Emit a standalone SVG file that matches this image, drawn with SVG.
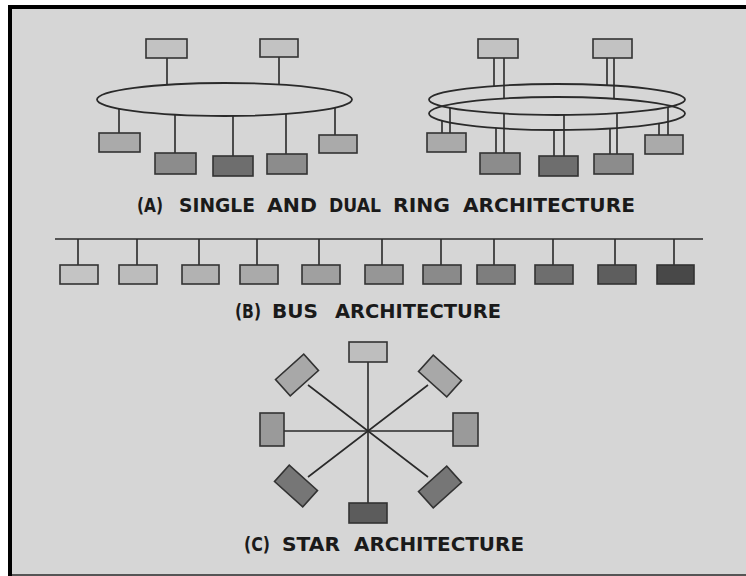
<svg xmlns="http://www.w3.org/2000/svg" width="746" height="576" viewBox="0 0 746 576">
<style>
.bx{stroke:#333;stroke-width:1.6}
.ln{stroke:#2a2a2a;stroke-width:1.6;fill:none}
.rg{stroke:#2a2a2a;stroke-width:1.8;fill:none}
.c1{fill:#c2c2c2}.c2{fill:#aaaaaa}.c3{fill:#8c8c8c}.c4{fill:#6e6e6e}
.lbl{font-family:"DejaVu Sans",Verdana,sans-serif;font-weight:bold;font-size:19px;fill:#1a1a1a}
</style>
<rect x="0" y="0" width="746" height="576" fill="#ffffff"/>
<rect x="8" y="5" width="738" height="571" fill="#000"/>
<rect x="12" y="9" width="734" height="565" fill="#d6d6d6"/>
<rect x="12" y="574" width="734" height="2" fill="#555"/>

<g id="connectors">
  <!-- single ring -->
  <ellipse class="rg" cx="224.5" cy="99.5" rx="127.5" ry="16.5"/>
  <path class="ln" d="M167 58V84.8M279 57V84.6M119 108.8V133M175 114.7V153M233 116V156M286 114V154M335 107.7V135"/>
  <!-- dual ring -->
  <ellipse class="rg" cx="557" cy="99.5" rx="128" ry="15.5"/>
  <ellipse class="rg" cx="557" cy="113.5" rx="128" ry="16.5"/>
  <path class="ln" d="M494 58V86M504 58V98.5M607 58V85.2M614 58V98.7M442 120.7V133M450 108V133M496 128V153M504 113.6V153M554 130V156M564 115V156M610 128.5V154M617 113.2V154M659 123.5V135M668 107.2V135"/>
  <!-- bus -->
  <path class="ln" d="M55 239H703M78 239V265M137 239V265M199 239V265M257 239V265M319 239V265M382 239V265M441 239V265M494 239V265M553 239V265M615 239V265M674 239V265"/>
  <!-- star -->
  <path class="ln" d="M368 362V503M284 431H453"/>
  <path class="ln" stroke-width="1.4" d="M308 385L428 477M428 385L308 477"/>
</g>

<g id="single-ring-nodes">
  <g id="sr1"><rect class="bx c1" x="146" y="39" width="41" height="19"/></g>
  <g id="sr2"><rect class="bx c1" x="260" y="39" width="38" height="18"/></g>
  <g id="sr3"><rect class="bx c2" x="99" y="133" width="41" height="19"/></g>
  <g id="sr4"><rect class="bx c3" x="155" y="153" width="41" height="21"/></g>
  <g id="sr5"><rect class="bx c4" x="213" y="156" width="40" height="20"/></g>
  <g id="sr6"><rect class="bx c3" x="267" y="154" width="40" height="20"/></g>
  <g id="sr7"><rect class="bx c2" x="319" y="135" width="38" height="18"/></g>
</g>

<g id="dual-ring-nodes">
  <g id="dr1"><rect class="bx c1" x="478" y="39" width="40" height="19"/></g>
  <g id="dr2"><rect class="bx c1" x="593" y="39" width="39" height="19"/></g>
  <g id="dr3"><rect class="bx c2" x="427" y="133" width="39" height="19"/></g>
  <g id="dr4"><rect class="bx c3" x="480" y="153" width="40" height="21"/></g>
  <g id="dr5"><rect class="bx c4" x="539" y="156" width="39" height="20"/></g>
  <g id="dr6"><rect class="bx c3" x="594" y="154" width="39" height="20"/></g>
  <g id="dr7"><rect class="bx c2" x="645" y="135" width="38" height="19"/></g>
</g>

<g id="bus-nodes">
  <g id="b1"><rect class="bx" fill="#c4c4c4" x="60" y="265" width="38" height="19"/></g>
  <g id="b2"><rect class="bx" fill="#bcbcbc" x="119" y="265" width="38" height="19"/></g>
  <g id="b3"><rect class="bx" fill="#b2b2b2" x="182" y="265" width="37" height="19"/></g>
  <g id="b4"><rect class="bx" fill="#aaaaaa" x="240" y="265" width="38" height="19"/></g>
  <g id="b5"><rect class="bx" fill="#a0a0a0" x="302" y="265" width="38" height="19"/></g>
  <g id="b6"><rect class="bx" fill="#969696" x="365" y="265" width="38" height="19"/></g>
  <g id="b7"><rect class="bx" fill="#8a8a8a" x="423" y="265" width="38" height="19"/></g>
  <g id="b8"><rect class="bx" fill="#7e7e7e" x="477" y="265" width="38" height="19"/></g>
  <g id="b9"><rect class="bx" fill="#6e6e6e" x="535" y="265" width="38" height="19"/></g>
  <g id="b10"><rect class="bx" fill="#5e5e5e" x="598" y="265" width="38" height="19"/></g>
  <g id="b11"><rect class="bx" fill="#484848" x="657" y="265" width="37" height="19"/></g>
</g>

<g id="star-nodes">
  <g id="s-top"><rect class="bx" fill="#bebebe" x="349" y="342" width="38" height="20"/></g>
  <g id="s-bottom"><rect class="bx" fill="#5c5c5c" x="349" y="503" width="38" height="20"/></g>
  <g id="s-left"><rect class="bx" fill="#9a9a9a" x="260" y="413" width="24" height="33"/></g>
  <g id="s-right"><rect class="bx" fill="#9a9a9a" x="453" y="413" width="25" height="33"/></g>
  <g id="s-ul" transform="translate(297 375) rotate(-42)"><rect class="bx" fill="#a8a8a8" x="-19" y="-11" width="38" height="22"/></g>
  <g id="s-ur" transform="translate(440 376) rotate(42)"><rect class="bx" fill="#a8a8a8" x="-19" y="-11" width="38" height="22"/></g>
  <g id="s-ll" transform="translate(296 486) rotate(42)"><rect class="bx" fill="#767676" x="-19" y="-11" width="38" height="22"/></g>
  <g id="s-lr" transform="translate(440 487) rotate(-42)"><rect class="bx" fill="#767676" x="-19" y="-11" width="38" height="22"/></g>
</g>

<g id="labels">
  <text class="lbl" y="212"><tspan x="137" textLength="26" lengthAdjust="spacingAndGlyphs">(A)</tspan><tspan x="179" textLength="76" lengthAdjust="spacingAndGlyphs">SINGLE</tspan><tspan x="267" textLength="50" lengthAdjust="spacingAndGlyphs">AND</tspan><tspan x="329" textLength="52" lengthAdjust="spacingAndGlyphs">DUAL</tspan><tspan x="393" textLength="57" lengthAdjust="spacingAndGlyphs">RING</tspan><tspan x="463" textLength="172" lengthAdjust="spacingAndGlyphs">ARCHITECTURE</tspan></text>
  <text class="lbl" y="318"><tspan x="235" textLength="26" lengthAdjust="spacingAndGlyphs">(B)</tspan><tspan x="272" textLength="46" lengthAdjust="spacingAndGlyphs">BUS</tspan><tspan x="335" textLength="166" lengthAdjust="spacingAndGlyphs">ARCHITECTURE</tspan></text>
  <text class="lbl" y="551"><tspan x="244" textLength="26" lengthAdjust="spacingAndGlyphs">(C)</tspan><tspan x="282" textLength="58" lengthAdjust="spacingAndGlyphs">STAR</tspan><tspan x="354" textLength="170" lengthAdjust="spacingAndGlyphs">ARCHITECTURE</tspan></text>
</g>
</svg>
